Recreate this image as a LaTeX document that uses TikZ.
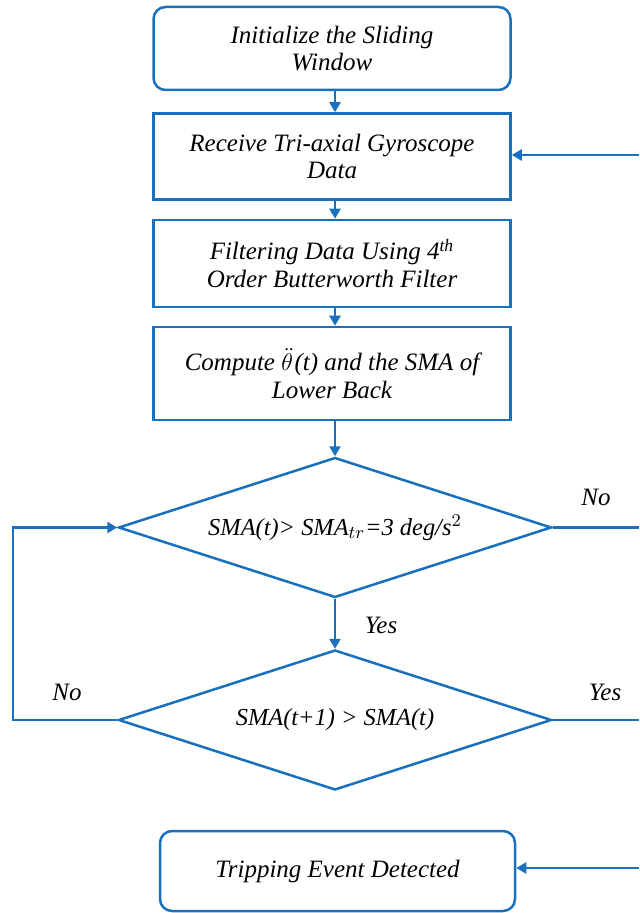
\documentclass[tikz,border=0pt]{standalone}
\usepackage{fontspec}
\setmainfont{Liberation Serif}
\usetikzlibrary{shapes.geometric,arrows.meta}
\definecolor{fcblue}{RGB}{24,112,190}
\begin{document}
\begin{tikzpicture}[x=0.5pt,y=-0.5pt,
  every node/.style={font=\fontsize{12.5}{13.8}\selectfont\itshape},
  line/.style={draw=fcblue,line width=1.25pt},
  arr/.style={line,-{Triangle[length=5pt,width=5.5pt]}},
  procbox/.style={draw=fcblue,line width=1.25pt,minimum width=178.5pt,align=center,inner sep=0pt},
  roundbox/.style={procbox,rounded corners=6pt},
  decision/.style={diamond,draw=fcblue,line width=1.25pt,aspect=3,minimum width=216.5pt,minimum height=70pt,inner sep=0pt,font=\fontsize{12.2}{13.5}\selectfont\itshape},
  lbl/.style={font=\fontsize{12.5}{13.5}\selectfont\itshape}]
\useasboundingbox (0,0) rectangle (639,913);
\node[roundbox,minimum height=41.5pt] (init) at (332,48.5) {Initialize the Sliding\\Window};
\node[procbox,minimum height=43pt] (recv) at (332,156.5) {Receive Tri-axial Gyroscope\\Data};
\node[procbox,minimum height=43.5pt] (filt) at (332,263.5) {Filtering Data Using 4\textsuperscript{th}\\Order Butterworth Filter};
\node[procbox,minimum height=46.5pt] (comp) at (332,373.5) {Compute \mbox{$\ddot{\theta}$}\kern0.8pt(t) and the SMA of\\Lower Back};
\node[decision] (d1) at (335,527.5) {SMA(t)> SMA$_{tr}$=3 deg/s$^2$};
\node[decision] (d2) at (335,720) {SMA(t+1) > SMA(t)};
\node[roundbox,minimum width=177.5pt,minimum height=40pt] (trip) at (337.5,871) {Tripping Event Detected};
\coordinate (rin) at (639,155);
\coordinate (rno) at (639,527.5);
\coordinate (ryes) at (639,720);
\coordinate (rtrip) at (639,868);
\coordinate (lb) at (13,720);
\coordinate (lt) at (13,527.5);
\draw[arr] (init.south -| 335,0) -- (recv.north -| 335,0);
\draw[arr] (recv.south -| 335,0) -- (filt.north -| 335,0);
\draw[arr] (filt.south -| 335,0) -- (comp.north -| 335,0);
\draw[arr] (comp.south -| 335,0) -- (d1.north);
\draw[arr] (d1.south) -- (d2.north);
\draw[arr] (rin) -- (recv.east |- rin);
\draw[line] (d1.east) -- (rno);
\draw[line] (d2.east) -- (ryes);
\draw[arr] (rtrip) -- (trip.east |- rtrip);
\draw[arr] (d2.west) -- (lb) -- (lt) -- (d1.west);
\node[lbl] (no1) at (596,497) {No};
\node[lbl] (yes1) at (381,625) {Yes};
\node[lbl] (no2) at (67,692) {No};
\node[lbl] (yes2) at (605,692) {Yes};
\end{tikzpicture}
\end{document}
